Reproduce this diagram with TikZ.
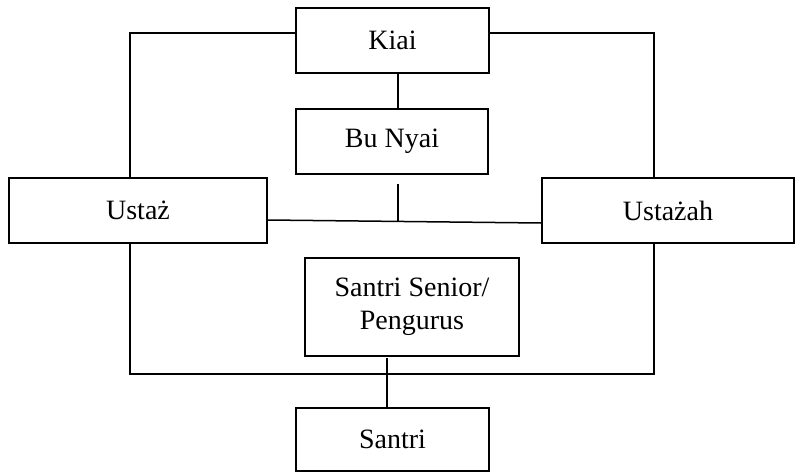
\documentclass[tikz,border=0pt]{standalone}
\usepackage{fontspec}
\setmainfont{Liberation Serif}
\begin{document}
\begin{tikzpicture}[x=1pt,y=-1pt,
  box/.style={draw,line width=1.5pt,rectangle,inner sep=0pt,align=center,
    font=\fontsize{28}{33}\selectfont},
  conn/.style={line width=1.5pt}]
\useasboundingbox (0,0) rectangle (796,472);
\node[box,minimum width=193pt,minimum height=65pt] (kiai) at (392.5,40.5) {Kiai};
\node[box,minimum width=192pt,minimum height=65pt] (bunyai) at (392,141.5) {Bu Nyai};
\node[box,minimum width=258pt,minimum height=65pt] (ustaz) at (138,210.5) {Usta\.z};
\node[box,minimum width=252pt,minimum height=65pt] (ustazah) at (668,210.5) {Usta\.zah};
\node[box,minimum width=214pt,minimum height=98pt] (senior) at (412,307) {Santri Senior/\\Pengurus};
\node[box,minimum width=193pt,minimum height=63pt] (santri) at (392.5,439.5) {Santri};
% coordinates
\coordinate (kl) at (130,33);
\coordinate (kr) at (654,33);
\coordinate (bl) at (130,374);
\coordinate (br) at (654,374);
\coordinate (bntop) at (398,184);
\coordinate (bnbot) at (398,221.3);
\coordinate (sstop) at (387,358);
% connectors
\draw[conn] (kiai.west |- kl) -- (kl) -- (ustaz.north -| kl);
\draw[conn] (kiai.east |- kr) -- (kr) -- (ustazah.north -| kr);
\draw[conn] (kiai.south -| bntop) -- (bunyai.north -| bntop);
\draw[conn] ([yshift=-9.5pt]ustaz.east) -- ([yshift=-12.5pt]ustazah.west);
\draw[conn] (bntop) -- (bnbot);
\draw[conn] (ustaz.south -| bl) -- (bl) -- (br) -- (ustazah.south -| br);
\draw[conn] (sstop) -- (santri.north -| sstop);
\end{tikzpicture}
\end{document}
